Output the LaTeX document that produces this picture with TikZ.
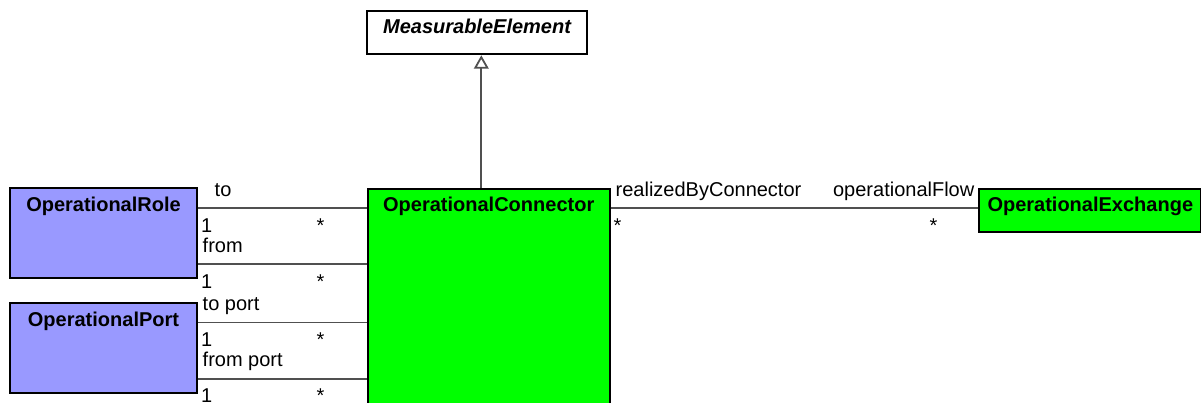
\documentclass[tikz,border=0pt]{standalone}
\usepackage{fontspec}
\setmainfont{Liberation Sans}
\usetikzlibrary{arrows.meta}
\definecolor{rolefill}{HTML}{9999FF}
\definecolor{greenfill}{HTML}{00FF00}
\definecolor{linegray}{HTML}{505050}
\tikzset{
  cls/.style={draw=black, line width=2pt, anchor=north west, inner sep=0pt},
  title/.style={anchor=base, inner sep=0pt, font=\fontsize{20}{24}\selectfont\bfseries},
  lbl/.style={anchor=base west, inner sep=0pt, font=\fontsize{20}{24}\selectfont},
  assoc/.style={draw=linegray, line width=1.8pt},
  gen/.style={draw=linegray, line width=1.8pt, -{Triangle[open, length=13.4pt, width=14.7pt, fill=white]}},
}
\begin{document}
\begin{tikzpicture}[x=1pt,y=1pt]
\useasboundingbox (0,0) rectangle (1201,-402);
\begin{scope}
\clip (0,0) rectangle (1201,-402);
% classes
\node[cls, fill=white, minimum width=219.5pt, minimum height=43.3pt] (me) at (366.3,-10) {};
\node[title, font=\fontsize{20}{24}\selectfont\bfseries\itshape] (metxt) at ([yshift=-23.3pt]me.north) {MeasurableElement};

\node[cls, fill=greenfill, minimum width=242pt, minimum height=230pt] (conn) at (366.7,-187.8) {};
\node[title] (conntxt) at ([yshift=-23.9pt]conn.north) {OperationalConnector};

\node[cls, fill=rolefill, minimum width=187pt, minimum height=89.4pt] (role) at (9,-187.3) {};
\node[title] (roletxt) at ([yshift=-24.4pt]role.north) {OperationalRole};

\node[cls, fill=rolefill, minimum width=187pt, minimum height=89.4pt] (port) at (9,-302.3) {};
\node[title] (porttxt) at ([yshift=-24.4pt]port.north) {OperationalPort};

\node[cls, fill=greenfill, minimum width=222pt, minimum height=43pt] (exch) at (978.3,-187.7) {};
\node[title] (exchtxt) at ([yshift=-24pt]exch.north) {OperationalExchange};

% generalization
\coordinate (gx) at (481.3,0);
\draw[gen] (conn.north -| gx) -- (me.south -| gx);

% associations
\coordinate (l1) at (0,-207.7);
\coordinate (l2) at (0,-264);
\coordinate (l3) at (0,-322.5);
\coordinate (l4) at (0,-378.6);
\draw[assoc] (role.east |- l1) -- (conn.west |- l1);
\draw[assoc] (role.east |- l2) -- (conn.west |- l2);
\draw[assoc] (port.east |- l3) -- (conn.west |- l3);
\draw[assoc] (port.east |- l4) -- (conn.west |- l4);
\draw[assoc] (conn.east |- l1) -- (exch.west |- l1);

% association labels
\node[lbl] (t1) at (214.5,-196.7) {to};
\node[lbl] (m1a) at (201,-232.2) {1};
\node[lbl] (s1) at (316.5,-232.2) {*};
\node[lbl] (t2) at (202.5,-252.3) {from};
\node[lbl] (m2a) at (201,-288.5) {1};
\node[lbl] (s2) at (316.5,-288.5) {*};
\node[lbl] (t3) at (202.5,-310) {to port};
\node[lbl] (m3a) at (201,-346.8) {1};
\node[lbl] (s3) at (316.5,-346.8) {*};
\node[lbl] (t4) at (202.5,-366.7) {from port};
\node[lbl] (m4a) at (201,-402.9) {1};
\node[lbl] (s4) at (316.5,-402.9) {*};

\node[lbl] (rb) at (615.5,-196.7) {realizedByConnector};
\node[lbl, anchor=base east] (of) at (974.5,-196.7) {operationalFlow};
\node[lbl] (s5) at (613.5,-232.2) {*};
\node[lbl] (s6) at (929.5,-232.2) {*};
\end{scope}
\end{tikzpicture}
\end{document}
